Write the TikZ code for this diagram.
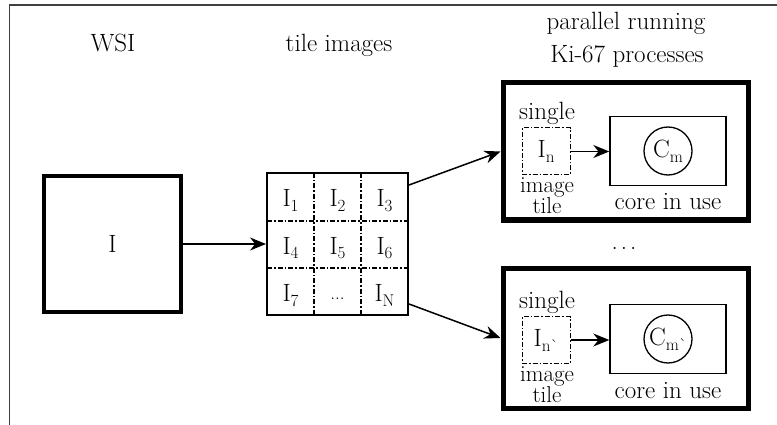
\documentclass[tikz,border=0pt]{standalone}
\usetikzlibrary{arrows.meta,calc}
\newcommand{\mysub}[1]{\raisebox{-5pt}{\fontsize{17}{20}\selectfont #1}}
\begin{document}
\begin{tikzpicture}[x=1pt,y=-1pt,
  lbl/.style={font=\fontsize{25}{29}\selectfont, inner sep=0pt},
  small/.style={font=\fontsize{23}{26}\selectfont, inner sep=0pt},
  wsibox/.style={draw, line width=4.5pt, minimum width=137pt, minimum height=136pt, inner sep=0pt, font=\fontsize{25}{29}\selectfont},
  gridbox/.style={draw, line width=2pt, minimum width=141pt, minimum height=142pt, inner sep=0pt},
  tiledash/.style={dash pattern=on 5pt off 2pt on 1.5pt off 2pt, line width=1pt},
  procbox/.style={draw, line width=5pt, minimum width=245pt, inner sep=0pt},
  tilebox/.style={draw, tiledash, minimum width=48pt, minimum height=47pt, inner sep=0pt, font=\fontsize{25}{29}\selectfont},
  corebox/.style={draw, line width=1.4pt, minimum width=116pt, minimum height=69pt, inner sep=0pt},
  corecirc/.style={draw, circle, line width=1.3pt, minimum size=48pt, inner sep=0pt, font=\fontsize{25}{29}\selectfont},
  arr/.style={-{Stealth[length=16pt,width=13pt]}, line width=1.5pt},
  framel/.style={draw=black!75, line width=1.5pt}
]
\useasboundingbox (0,0) rectangle (777,425);
\fill[white] (0,0) rectangle (777,425);
% frame
\coordinate (fa) at (9.5,425);
\coordinate (fb) at (9.5,5);
\coordinate (fc) at (777,5);
\draw[framel] (fa) -- (fb) -- (fc);

% headers
\node[lbl, anchor=base] (hwsi) at (113,52) {WSI};
\node[lbl, anchor=base] (htile) at (339,52) {tile images};
\node[lbl, anchor=base] (hpar) at (626,30) {parallel running};
\node[lbl, anchor=base] (hki) at (627,63) {Ki-67 processes};

% WSI
\node[wsibox] (wsi) at (112.5,244) {I};

% grid
\node[gridbox] (grid) at (337.5,244) {};
\draw[tiledash, line width=1.2pt] (314,173) -- (314,315);
\draw[tiledash, line width=1.2pt] (361,173) -- (361,315);
\draw[tiledash, line width=1.2pt] (267,221) -- (408,221);
\draw[tiledash, line width=1.2pt] (267,268) -- (408,268);
\node[lbl, anchor=base] (c1) at (290.5,207) {I\mysub{1}};
\node[lbl, anchor=base] (c2) at (337.5,207) {I\mysub{2}};
\node[lbl, anchor=base] (c3) at (384.5,207) {I\mysub{3}};
\node[lbl, anchor=base] (c4) at (290.5,254) {I\mysub{4}};
\node[lbl, anchor=base] (c5) at (337.5,254) {I\mysub{5}};
\node[lbl, anchor=base] (c6) at (384.5,254) {I\mysub{6}};
\node[lbl, anchor=base] (c7) at (290.5,301) {I\mysub{7}};
\node[lbl, font=\fontsize{19}{21}\selectfont, anchor=base] (c8) at (337.5,299) {...};
\node[lbl, anchor=base] (c9) at (384.5,301) {I\mysub{N}};

\draw[arr] (wsi) -- (grid);

% process box 1
\node[procbox, minimum height=137pt] (p1) at (625.5,151.5) {};
\node[tilebox] (t1) at (546,151.5) {I\mysub{n}};
\node[lbl, anchor=base] (s1) at (547,120) {single};
\node[small, anchor=base] (i1) at (547,192.5) {image};
\node[small, anchor=base] (l1) at (547,214) {tile};
\node[corebox] (k1) at (668,151) {};
\node[corecirc] (m1) at (668,151) {C\mysub{m}};
\node[lbl, anchor=base] (u1) at (668,210) {core in use};
\draw[arr] (t1.east) -- (k1.west |- t1.east);

% dots
\node[lbl, anchor=base] (dots) at (624,249) {.\hspace{3pt}.\hspace{3pt}.};

% process box 2
\node[procbox, minimum height=140pt] (p2) at (625.5,338) {};
\node[tilebox] (t2) at (546,340) {I\mysub{n\textasciigrave}};
\node[lbl, anchor=base] (s2) at (547,308) {single};
\node[small, anchor=base] (i2) at (547,381) {image};
\node[small, anchor=base] (l2) at (547,402.5) {tile};
\node[corebox] (k2) at (668,339) {};
\node[corecirc] (m2) at (668,339) {C\mysub{m\textasciigrave}};
\node[lbl, anchor=base] (u2) at (668,398) {core in use};
\draw[arr] (t2.east) -- (k2.west |- t2.east);

% grid to process boxes
\coordinate (g1) at ($(grid.north east)+(0,13)$);
\coordinate (g2) at ($(grid.south east)+(0,-12)$);
\draw[arr] (g1) -- (p1.west);
\draw[arr] (g2) -- (p2.west);
\end{tikzpicture}
\end{document}
